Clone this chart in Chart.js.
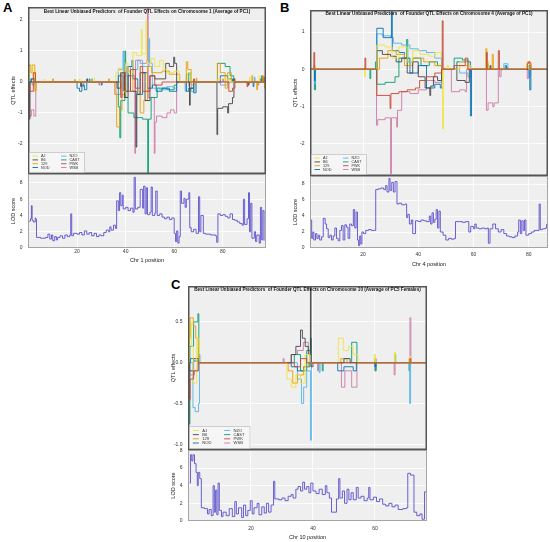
<!DOCTYPE html>
<html>
<head>
<meta charset="utf-8">
<script src="https://cdn.jsdelivr.net/npm/chart.js@4.4.1/dist/chart.umd.min.js"></script>
<style>
  body { margin: 0; background: #fff; width: 550px; height: 542px; position: relative; overflow: hidden; font-family: "Liberation Sans", Arial, sans-serif; }
  canvas { position: absolute; }
  .tag { position: absolute; font-weight: bold; font-size: 13px; color: #000; line-height: 15px; }
</style>
</head>
<body>
<div class="tag" style="left:3px;top:0px">A</div>
<div class="tag" style="left:280px;top:0px">B</div>
<div class="tag" style="left:171px;top:277px">C</div>
<canvas id="chartA" width="266" height="271" style="left:0px;top:7px"></canvas>
<canvas id="chartB" width="266" height="268" style="left:282px;top:10px"></canvas>
<canvas id="chartC" width="267" height="265" style="left:160px;top:286px"></canvas>
<script>
// founder strains and their colours
const strains = ['AJ', 'B6', '129', 'NOD', 'NZO', 'CAST', 'PWK', 'WSB'];
const strainColors = ['#F0E442', '#444444', '#E69F00', '#0072B2', '#56B4E9', '#009E73', '#C9432F', '#CC79A7'];

// ---- Chromosome 1 (panel A): [position, effect] ----
const ajA = [[0.4,0.5],[1.8,0.2],[2.8,0],[6.5,0.08],[6.8,0],[21,0.1],[21.3,0],[27,0.12],[27.3,0],
  [36,0.3],[37,0.45],[38.5,-0.3],[40,0.6],[41,0.3],[43,0.95],[44.5,0.85],[46.5,1.7],[46.8,0.9],[48.4,2.0],[48.7,0.6],
  [50.5,0.75],[52,0.5],[54,0.7],[55.5,0.4],[57,0.3],[60,0.35],[62,0],[65.5,0.3],[67,0],[78,0.1],[83,0],
  [91,0.15],[91.3,0],[95,0.2],[95.3,0]];
const b6A = [[0.3,-1.2],[0.6,0],[21.5,-0.15],[21.8,0],[24,0.1],[24.3,0],[36.5,-0.2],[38,0.3],[39.5,-0.5],[41,0.2],
  [42,-0.3],[44.3,-2.1],[44.6,-0.4],[46,0.3],[48,-0.6],[50,0.2],[52,0.1],[56.5,0.6],[58,0.5],[59.8,0.8],[60.2,0.6],[61,0],
  [66.3,-0.75],[66.6,-0.2],[68,0],[77.6,-1.7],[77.9,-0.85],[80,-0.8],[82,-1.0],[82.4,-0.7],[84,-0.5],[84.6,0.1],[85,0],
  [90.5,-0.1],[90.8,0]];
const s129A = [[0.4,0.55],[1.0,0.3],[1.6,0.55],[2.6,-0.3],[3.2,0],[10,0.1],[10.3,0],[19,0.08],[19.3,0],[33,0.1],[33.3,0],
  [35.5,-0.4],[36.3,-1.45],[37.5,-0.9],[38.5,-0.4],[40,0.35],[42,0.2],[43,-0.3],[46,-1.0],[47.5,-0.6],[49,0.5],[50.7,0.3],
  [55,0.35],[58,0.25],[62.3,0],[65,0.65],[65.6,0.4],[67,-0.1],[68,0],[69,0.12],[69.3,0],[77.8,0.6],[79,0.3],[81,-0.2],
  [82,0.3],[83.5,0],[92,0.2],[92.3,0],[94,-0.25],[94.3,0],[96.5,0.2],[96.8,0],[97.2,-0.2],[97.5,0]];
const nodA = [[1.0,0.1],[2.5,0],[20,-0.2],[21,-0.3],[22,-0.1],[23,-0.25],[24,0],[30,-0.1],[30.3,0],[37,0.2],[39,-0.3],
  [41,0.5],[42.6,0.7],[43,0.1],[45,-0.4],[47,0.3],[49,-0.2],[51,-0.1],[52.6,-0.3],[55,-0.2],[58,-0.3],[61,0],
  [65,-0.3],[66,-0.2],[68,-0.35],[69,0],[79,0.2],[82,0.1],[84,0],[92.5,-0.15],[92.8,0],[95.5,0.1],[95.8,0]];
const nzoA = [[1.5,-0.1],[2.5,0],[22.5,-0.15],[22.8,0],[26,0.1],[26.3,0],[37,0.4],[38.9,1.0],[39.2,0.2],[41,0.5],[43,0.4],
  [45,0.7],[47,0.5],[49.6,1.4],[49.9,0.6],[51,-0.2],[54,-0.25],[57,-0.15],[59.6,-0.2],[61,0],[64.5,-0.3],[65,0.25],
  [67,-0.3],[68.5,0],[79,-0.1],[82,0],[93,0.15],[93.3,0]];
const castA = [[1.2,0.1],[2.5,0],[25,0.1],[25.3,0],[37,-0.8],[37.6,-1.8],[38,-0.6],[39.7,1.0],[40,-0.5],[41,-1.0],
  [43.4,-1.15],[47,-1.2],[49.1,-2.95],[49.4,-1.2],[50.5,-0.5],[53,-0.2],[57,-0.25],[60,-0.1],[61,0],[66,0.3],[67,0],
  [77.8,0.6],[81,0.5],[83,0.2],[84.5,0],[96,0.2],[96.3,0]];
const pwkA = [[0.6,-0.3],[2.0,0.3],[2.9,0],[38,-0.5],[38.5,0.3],[40,-0.3],[42,0.4],[44,-0.2],[46,0.5],[47,-0.3],[50,0.2],
  [52,-0.1],[55,0],[68,0.1],[68.3,0],[82.5,-0.3],[84,-0.2],[85,0],[90,-0.15],[90.3,0],[97,0.15],[97.3,0]];
const wsbA = [[0.5,-1.1],[1.2,-0.9],[2.2,-1.1],[3.0,0],[29,-0.1],[29.3,0],[36,-0.4],[38,0.3],[40.5,0.5],[42,0.2],
  [43.8,-2.3],[44.1,0.7],[46,0.6],[48.6,0.7],[49.0,2.42],[49.3,-0.5],[51.8,-2.3],[52.1,-1.3],[52.7,-1.1],[55,-1.15],
  [57,-1.0],[58.5,-0.9],[60,-1.0],[61,0],[66,-0.15],[66.3,0],[80,0.1],[80.3,0],[94.5,-0.1],[94.8,0]];
const lodA = [[0.3,3.3],[0.8,3.6],[1.2,5.2],[1.5,3.4],[2.0,3.2],[2.8,3.7],[3.0,3.5],[3.3,1.3],[5,1.2],[7,1.3],[8,1.7],
  [8.8,1.1],[9.5,1.6],[10,0.9],[10.8,1.4],[11.5,1.0],[12,1.3],[13,1.5],[14,1.2],[15,1.6],[16,1.4],[17,1.6],[17.4,4.2],
  [17.8,1.5],[18.5,1.8],[20,1.7],[21,1.9],[22,1.6],[23,2.1],[24,1.7],[25,1.9],[26,1.5],[27,1.8],[28,1.4],[29,1.6],
  [30,1.5],[31,1.9],[32,2.2],[33,2.0],[33.5,2.6],[34,2.2],[35,2.8],[35.8,2.4],[36.3,5.8],[37,4.6],[37.5,6.8],[38,5.2],
  [38.6,6.5],[39,4.8],[40,5.0],[41,4.6],[42,4.9],[43,4.4],[43.5,8.7],[44,4.8],[45,5.0],[46,7.2],[47,4.9],[47.4,7.6],
  [48,4.2],[48.5,7.4],[49,4.1],[50,4.4],[50.5,7.5],[51,4.0],[52,4.3],[52.4,7.0],[53,4.0],[54,4.2],[55,3.8],[56,3.6],
  [57,3.8],[58,3.5],[59,3.7],[60,1.8],[60.5,0.8],[61,2.1],[61.5,0.6],[62,1.4],[62.5,7.0],[63,5.5],[64,6.1],[64.5,5.0],
  [65,6.0],[66,6.8],[66.4,2.5],[67,2.0],[68,2.3],[69,1.8],[70,6.3],[70.5,2.0],[71,4.0],[72,1.8],[73,1.7],[75,1.6],
  [77,1.5],[77.5,0.7],[78,4.2],[79,4.0],[80,4.1],[81,3.9],[82,3.7],[83,4.2],[84,3.5],[85,3.4],[86,3.2],[87,3.0],
  [88,2.8],[88.5,6.0],[89,2.9],[90,3.6],[90.6,6.8],[91,2.0],[91.5,5.5],[92,1.2],[93,2.0],[93.5,0.8],[94,1.6],[95,0.6],
  [95.5,5.0],[96,1.0],[96.5,4.6],[97,0.9]];

// ---- Chromosome 4 (panel B) ----
const ajB = [[20.5,-0.2],[20.8,0],[25,0.65],[28,0.6],[30.5,0.3],[33,0.6],[36,0.2],[38,0.5],[40.6,0.4],[44,0.35],[46,0.45],
  [48.4,0.3],[48.8,-1.6],[49.1,0],[50.5,0.1],[51,0],[55,0.2],[58,0.1],[59,0],[65,0.2],[65.3,0],[79,0.1],[80,0]];
const b6B = [[25,0.5],[27,0.4],[30,0.35],[32,0.2],[34,0.3],[36,-0.1],[38,0.2],[40,-0.2],[42.5,-0.5],[44.2,-0.7],[44.5,-0.45],
  [45.5,-0.2],[47,-0.3],[48.5,0],[54,-0.3],[57,-0.35],[58.5,0],[66,0.1],[66.3,0]];
const s129B = [[2.3,0.1],[2.6,0],[26,0.3],[29,0.5],[32,0.4],[35,0.1],[38,0.3],[42,0.2],[46,0.1],[48.5,0],[55,0.1],[58,0],
  [64.5,0.55],[64.9,0.2],[65.3,0],[66.8,0.4],[67.2,0],[79.5,0.2],[80.5,0.15],[81,0]];
const nodB = [[2.4,-0.3],[2.7,0],[25,1.1],[27.3,0.85],[30.3,1.55],[30.6,0.5],[33,0.45],[35,0.3],[37,-0.1],[40,0.1],[43,-0.5],
  [46,-0.4],[48,-0.5],[48.6,0],[54,0.2],[58.9,-1.25],[59.3,0],[71.5,0.1],[72,0],[80.4,-0.55],[80.8,0]];
const nzoB = [[2.4,-0.4],[2.7,0],[25,0.95],[27,0.9],[30,0.85],[31,0.7],[34,0.65],[37,0.55],[40,0.5],[43,0.45],[46,0.3],
  [48.5,0],[55,-0.1],[58,-0.2],[59,0],[71,0.15],[72.5,0],[80,-0.2],[80.5,0]];
const castB = [[2.4,-0.55],[2.8,0],[22.5,-0.25],[22.8,0],[24.5,0.2],[25,-0.4],[28,-0.35],[31.6,-0.2],[33,0.3],[35.8,0.8],
  [36.2,0.2],[38,0.3],[41,0.1],[44,0.2],[47,0.1],[48.5,0],[53,0.3],[56,0.25],[58,0.1],[59,0],[65,0.15],[65.3,0],
  [72,0.05],[72.3,0],[80,0.1],[80.5,0]];
const pwkB = [[2.2,0.45],[2.5,0],[20.7,0.3],[21,0],[25,-0.7],[28,-0.7],[29.8,-1.05],[30.1,-0.65],[33,-0.6],[36,-0.55],
  [39,-0.5],[40.5,-0.3],[43,-0.2],[46,-0.1],[48.5,0],[48.7,1.3],[49,0],[53,0.1],[57,0.3],[58,0],[64.7,0.45],[65,0],
  [69,0.5],[69.4,0],[79.5,0.15],[80,0.2],[80.5,0]];
const wsbB = [[24.9,-1.5],[25.3,-1.35],[28,-1.3],[30,-2.8],[30.3,-1.3],[32.2,-1.55],[32.5,-1.1],[34,-0.6],[37,-0.65],
  [40,-0.55],[43,-0.3],[46,-0.35],[48.5,0],[52,-0.6],[55,-0.55],[57,-0.6],[57.5,0],[64.7,-1.1],[65.3,-0.9],[67,-1.0],
  [67.5,-0.9],[69,0],[69.5,-0.2],[70,0],[79.5,-0.25],[80,0]];
const lodB = [[1.0,3.5],[1.4,1.2],[1.8,2.0],[2.2,1.0],[2.8,1.8],[3.3,1.2],[3.8,1.6],[4.3,1.0],[5.0,1.4],[5.6,3.7],[6.3,3.0],
  [6.8,2.4],[7.4,1.3],[8.0,1.6],[8.6,1.0],[9.2,1.5],[9.8,2.5],[10.4,1.2],[11.0,0.9],[11.6,2.2],[12.2,2.8],[12.8,1.0],
  [13.4,2.9],[14.0,2.6],[14.6,1.2],[15.2,3.0],[15.8,2.8],[16.5,4.8],[17.0,2.5],[17.5,4.5],[18.0,1.0],[18.4,0.3],
  [18.8,1.5],[19.2,0.5],[19.6,2.0],[20.2,1.8],[21,2.2],[22,2.3],[23,2.2],[24.6,7.3],[25.5,7.4],[26.5,7.5],[27.5,7.3],
  [28.2,7.8],[28.7,7.0],[29.4,8.7],[29.8,7.2],[30.4,8.2],[31.0,7.0],[31.6,8.3],[32.3,5.5],[33,5.6],[34,5.4],[35.2,5.5],
  [35.8,3.8],[36.2,4.2],[36.8,3.0],[37.5,3.5],[38,1.8],[39,3.4],[40,3.3],[41,3.5],[42,3.4],[43,3.3],[44,4.0],[44.5,3.0],
  [45,4.4],[45.5,3.2],[46,3.6],[46.5,4.8],[47,2.5],[47.5,4.6],[48,2.0],[49,1.6],[50,1.0],[51,1.2],[52,1.1],[53,1.2],
  [53.5,3.3],[55,3.3],[56,3.2],[57,3.3],[58.3,2.0],[59,2.7],[60,2.4],[60.5,3.0],[61,2.5],[62,2.4],[63,2.5],[64,2.4],
  [65,2.5],[65.4,0.6],[66,2.4],[67,3.0],[68,2.4],[69,2.0],[70,2.3],[71,1.8],[72,1.5],[73,1.4],[74,1.3],[75,1.5],[76,2.0],
  [76.4,3.5],[77,1.8],[77.5,3.4],[78,2.2],[78.5,3.5],[79,1.6],[80,1.8],[81,2.0],[82,2.2],[83,2.2],[83.8,5.5],[84.2,2.3],
  [85,2.4],[86,2.5],[86.5,3.0]];

// ---- Chromosome 10 (panel C) ----
const ajC = [[0.2,0.5],[0.8,0.2],[1.4,-0.25],[2.5,0.3],[3.3,0],[31.6,-0.2],[33,-0.3],[34.5,-0.15],[36,-0.25],[37.5,0.1],
  [39,0],[48.2,0.3],[49.8,0.15],[51.5,0.2],[53,0.1],[54.5,0],[59.8,0.1],[60.2,0],[66.3,0.13],[66.6,0],[71.2,0.08],[71.5,0]];
const b6C = [[0.2,-0.1],[1.5,0.05],[3,0],[33,0.1],[34.5,0.2],[36,0.4],[36.6,0.3],[37.5,0.2],[38.5,0.1],[39.2,0.94],
  [39.4,-0.05],[40,0],[50,0.05],[52,0],[60,0.05],[60.3,0]];
const s129C = [[0.1,0.3],[0.4,0.55],[1.4,0.45],[2.2,0.3],[3,0],[32,-0.1],[33.5,-0.25],[35,-0.15],[37,-0.05],[38.5,0],
  [49,0.05],[51,0],[71,0.05],[71.3,0]];
const nodC = [[0.5,0.05],[1.5,0.02],[3.2,0.1],[3.5,0],[33,-0.05],[35,-0.1],[37,-0.05],[39,0],[48,-0.1],[50,-0.05],
  [53,-0.1],[54,0],[60,-0.05],[60.3,0]];
const nzoC = [[1.3,-0.55],[2,-0.6],[3.1,-0.5],[3.4,0],[35,-0.2],[36.3,-0.5],[37,-0.3],[38,-0.1],[39.2,-0.95],[39.5,0],
  [42,-0.12],[42.3,0],[71.2,-0.5],[71.5,0]];
const castC = [[0.1,-0.75],[0.3,0.2],[1.5,0.5],[2.9,0.6],[3.2,0],[34,0.1],[36,-0.1],[38,0.15],[39.2,0.3],[39.5,0],
  [43,-0.1],[43.3,0],[52.5,0.25],[54.2,0],[60.1,-0.1],[60.4,0],[66.4,0.1],[66.7,0],[71,-0.1],[71.3,0]];
const pwkC = [[0.1,-0.45],[0.4,-0.2],[1.5,-0.1],[3,0],[34,-0.05],[36,0.05],[38,0],[71.3,0.05],[71.6,0]];
const wsbC = [[0.3,-0.15],[1.8,-0.1],[3,0],[30.4,0.05],[30.7,0],[33,0.1],[35,0.15],[36.9,0.25],[38.5,0.15],[39,0],
  [41.5,-0.1],[41.8,0],[49.2,-0.3],[50.3,-0.1],[52.5,-0.3],[54.2,0],[60,-0.1],[60.3,0],[66.2,-0.15],[66.5,0],
  [71.3,0.55],[71.6,0]];
const lodC = [[0.2,4.3],[0.5,7.5],[0.9,6.8],[1.3,7.5],[1.8,6.5],[2.3,5.5],[2.7,4.0],[3.0,5.5],[3.5,4.8],[4.0,1.5],[5,1.4],
  [6,0.8],[6.5,1.3],[7.2,0.6],[7.8,4.0],[8.2,1.0],[8.6,3.5],[9.0,0.7],[9.4,4.3],[9.8,1.2],[10.5,0.5],[11,1.0],[12,0.6],
  [13,1.4],[14,0.5],[14.8,2.2],[15.3,0.8],[16,1.5],[17,0.4],[17.6,1.8],[18.3,0.6],[19,1.2],[19.8,2.3],[20.4,0.8],
  [21,1.5],[22,2.0],[22.6,0.7],[23.5,1.6],[24.3,0.9],[25,2.0],[25.7,1.0],[26.5,1.8],[27.3,4.5],[27.7,2.5],[29,2.4],
  [30,2.6],[31,2.3],[32,2.8],[33,3.0],[33.6,2.6],[34.5,3.6],[35.2,3.9],[36,3.4],[36.7,4.4],[37.3,3.6],[38,3.9],
  [38.7,3.2],[39.3,4.3],[40,3.4],[41,3.1],[42,3.6],[43,3.0],[44,4.0],[44.5,3.2],[45.3,2.6],[46,1.0],[47.6,2.5],
  [48.3,4.8],[48.7,2.6],[49.5,3.4],[50.2,2.0],[51,3.6],[51.6,2.4],[52.3,3.2],[53,2.4],[54,3.8],[54.6,2.6],[55.5,2.8],
  [56.5,2.3],[57.5,2.6],[58,3.8],[58.4,2.4],[59.5,2.7],[60.5,2.2],[61.5,2.5],[62.5,1.9],[63.5,1.7],[64.5,2.0],
  [65.5,1.6],[66.5,1.8],[67.5,1.3],[69,1.4],[70.2,1.5],[70.6,5.4],[71.5,5.2],[72.6,1.0],[73.5,0.6],[74.5,0.8],
  [75.2,0.2],[76.0,3.3],[76.7,3.2]];

// axis ticks
const xTicks = [20, 40, 60, 80];
const lodTicks = [0, 2, 4, 6, 8];

const FONT = '"Liberation Sans", Arial, sans-serif';
Chart.defaults.font.family = FONT;

// background boxes, borders, in-plot title and legend
const panelDeco = {
  id: 'panelDeco',
  beforeDraw(chart) {
    const { ctx, chartArea: ca, scales } = chart;
    ctx.save();
    ctx.fillStyle = '#efefef';
    ['q', 'lod'].forEach(k => ctx.fillRect(ca.left, scales[k].top, ca.width, scales[k].height));
    ctx.restore();
  },
  afterDraw(chart, args, opts) {
    const { ctx, chartArea: ca, scales: { q, lod } } = chart;
    ctx.save();
    ctx.strokeStyle = '#a5a5a5';
    ctx.lineWidth = 1;
    ctx.strokeRect(ca.left + 0.5, lod.top + 0.5, ca.width - 1, lod.height - 1);
    ctx.strokeStyle = '#555555';
    ctx.lineWidth = 1.5;
    ctx.strokeRect(ca.left + 0.75, q.top + 0.75, ca.width - 1.5, q.height - 1.5);

    // title sized to the width it takes in the original
    ctx.fillStyle = '#111';
    ctx.font = 'bold 10px ' + FONT;
    const size = 10 * opts.titleWidth / ctx.measureText(opts.title).width;
    ctx.font = 'bold ' + size.toFixed(2) + 'px ' + FONT;
    ctx.textAlign = 'center';
    ctx.textBaseline = 'middle';
    ctx.fillText(opts.title, (ca.left + ca.right) / 2, q.top + opts.titleY);

    // legend, two columns of four
    const s = opts.legendScale;
    const lw = 55 * s, lh = 20 * s;
    const lx = ca.left + 1.5, ly = q.bottom - 1.5 - lh;
    ctx.fillStyle = '#f6f6f6';
    ctx.fillRect(lx, ly, lw, lh);
    ctx.strokeStyle = '#b5b5b5';
    ctx.lineWidth = 0.6;
    ctx.strokeRect(lx, ly, lw, lh);
    ctx.font = (3.8 * s) + 'px ' + FONT;
    ctx.textAlign = 'left';
    strains.forEach((name, i) => {
      const col = i < 4 ? 0 : 1;
      const row = i % 4;
      const yy = ly + (3.6 + row * 3.8) * s;
      const sx = lx + (3 + col * 28.5) * s;
      ctx.strokeStyle = strainColors[i];
      ctx.lineWidth = 0.9;
      ctx.beginPath();
      ctx.moveTo(sx, yy);
      ctx.lineTo(sx + 5.5 * s, yy);
      ctx.stroke();
      ctx.fillStyle = '#333';
      ctx.fillText(name, sx + 8.5 * s, yy);
    });
    ctx.restore();
  }
};

function buildPanel(id, p) {
  const datasets = p.effects.map((pts, i) => ({
    label: strains[i],
    data: [{ x: p.xMin, y: 0 }].concat(pts.map(d => ({ x: d[0], y: d[1] })), [{ x: p.xMax, y: 0 }]),
    yAxisID: 'q',
    borderColor: strainColors[i],
    borderWidth: 0.9,
    pointRadius: 0,
    stepped: true,
    order: strains[i] === 'PWK' ? 0 : 1
  }));
  datasets.push({
    label: 'LOD',
    data: p.lod.map(d => ({ x: d[0], y: d[1] })),
    yAxisID: 'lod',
    borderColor: '#5a4fcc',
    borderWidth: 0.9,
    pointRadius: 0,
    stepped: true
  });

  const tickFont = { size: 5 };
  const fitY = s => { s.width = 28; s.paddingTop = 0; s.paddingBottom = 0; };

  new Chart(document.getElementById(id), {
    type: 'line',
    data: { datasets },
    options: {
      responsive: false,
      animation: false,
      events: [],
      plugins: {
        legend: { display: false },
        tooltip: { enabled: false },
        panelDeco: { title: p.title, titleY: p.titleY, titleWidth: p.titleWidth, legendScale: p.legendScale }
      },
      scales: {
        x: {
          type: 'linear', min: p.xMin, max: p.xMax,
          grid: { color: '#ffffff', lineWidth: 0.8, drawTicks: false },
          border: { display: false },
          ticks: { font: tickFont, color: '#333', padding: p.xTickPad, maxRotation: 0 },
          afterBuildTicks: s => { s.ticks = xTicks.filter(v => v < p.xMax).map(v => ({ value: v })); },
          afterFit: s => { s.height = 30; s.paddingLeft = 0; s.paddingRight = 0; },
          title: { display: true, text: p.xTitle, font: { size: 5.5 }, color: '#222', padding: { top: 0, bottom: p.xTitlePad } }
        },
        // stacked on the left: the LOD axis is listed first so it lands below the effects axis
        lod: {
          type: 'linear', position: 'left', stack: 'panel', stackWeight: p.lodWeight,
          min: 0, max: p.lodMax,
          grid: { color: '#ffffff', lineWidth: 0.8, drawTicks: false },
          border: { display: false },
          ticks: { font: tickFont, color: '#333', padding: 5.5 },
          afterBuildTicks: s => { s.ticks = lodTicks.filter(v => v < p.lodMax).map(v => ({ value: v })); },
          afterFit: fitY,
          title: { display: true, text: 'LOD score', font: { size: 5.5 }, color: '#222', padding: { top: 10, bottom: 0 } }
        },
        q: {
          type: 'linear', position: 'left', stack: 'panel', stackWeight: p.qWeight,
          min: p.qMin, max: p.qMax,
          grid: { color: '#ffffff', lineWidth: 0.8, drawTicks: false },
          border: { display: false },
          ticks: { font: tickFont, color: '#333', padding: 5.5, callback: v => v.toFixed(p.qDec) },
          afterBuildTicks: s => { s.ticks = p.qTicks.map(v => ({ value: v })); },
          afterFit: fitY,
          title: { display: true, text: 'QTL effects', font: { size: 5.5 }, color: '#222', padding: { top: 10, bottom: 0 } }
        }
      }
    },
    plugins: [panelDeco]
  });
}

buildPanel('chartA', {
  effects: [ajA, b6A, s129A, nodA, nzoA, castA, pwkA, wsbA], lod: lodA,
  xMin: -0.2, xMax: 97.8, qMin: -2.97, qMax: 2.42, qTicks: [-2, -1, 0, 1, 2], qDec: 0, lodMax: 9.1,
  qWeight: 167, lodWeight: 74, xTickPad: 1, xTitlePad: 14.7, xTitle: 'Chr 1 position',
  title: 'Best Linear Unbiased Predictors  of Founder QTL Effects on Chromosome 1 (Average of PC1)',
  titleY: 4.7, titleWidth: 207, legendScale: 1
});
buildPanel('chartB', {
  effects: [ajB, b6B, s129B, nodB, nzoB, castB, pwkB, wsbB], lod: lodB,
  xMin: 0.8, xMax: 87, qMin: -2.86, qMax: 1.59, qTicks: [-2, -1, 0, 1], qDec: 0, lodMax: 9.0,
  qWeight: 166, lodWeight: 72, xTickPad: 3.5, xTitlePad: 10.7, xTitle: 'Chr 4 position',
  title: 'Best Linear Unbiased Predictors  of Founder QTL Effects on Chromosome 4 (Average of PC1)',
  titleY: 3.8, titleWidth: 208, legendScale: 1
});
buildPanel('chartC', {
  effects: [ajC, b6C, s129C, nodC, nzoC, castC, pwkC, wsbC], lod: lodC,
  xMin: -0.3, xMax: 76.8, qMin: -1.07, qMax: 0.94, qTicks: [-1, -0.5, 0, 0.5], qDec: 1, lodMax: 8.04,
  qWeight: 164, lodWeight: 71, xTickPad: 5, xTitlePad: 10.7, xTitle: 'Chr 10 position',
  title: 'Best Linear Unbiased Predictors  of Founder QTL Effects on Chromosome 10 (Average of PC5 Females)',
  titleY: 3.5, titleWidth: 227, legendScale: 1.1
});
</script>
</body>
</html>
